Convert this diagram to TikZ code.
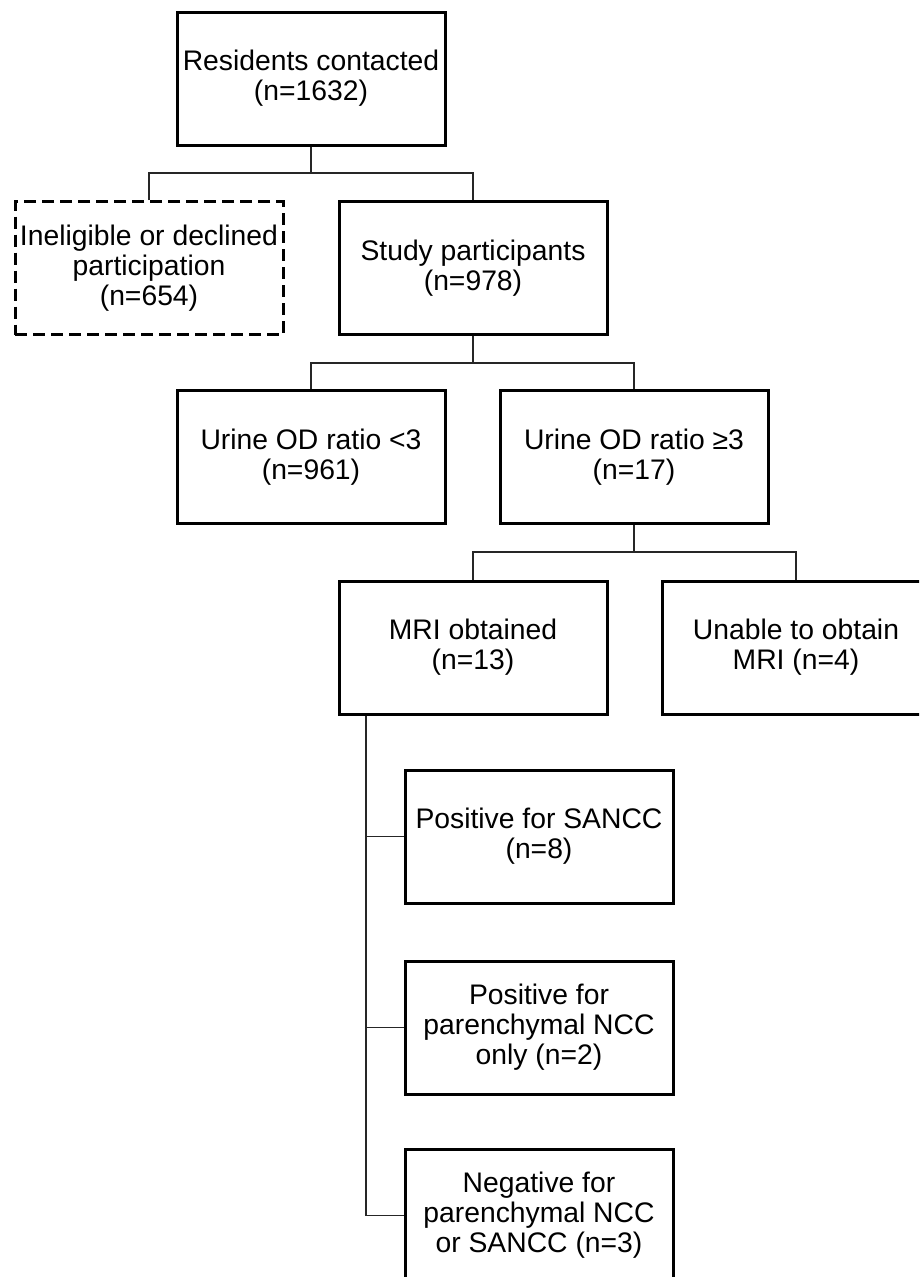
\documentclass[tikz,border=0pt]{standalone}
\usepackage{fontspec}
\setmainfont{Liberation Sans}
\begin{document}
\begin{tikzpicture}[x=1pt,y=-1pt,
  box/.style={draw=black,line width=3pt,minimum width=268pt,minimum height=133pt,
    inner sep=0pt,align=center,font=\fontsize{28.3}{30}\selectfont},
  dbox/.style={box,dash pattern=on 12pt off 6pt},
  conn/.style={draw=black!85,line width=1.4pt}]
\clip (0,0) rectangle (919,1277);
\fill[white] (0,0) rectangle (919,1277);
\node[box] (res) at (311,78.5) {Residents contacted\\(n=1632)};
\node[dbox] (inel) at (149,268) {Ineligible or declined\\participation\\(n=654)};
\node[box] (study) at (473,268) {Study participants\\(n=978)};
\node[box] (low) at (311,457) {Urine OD ratio <3\\(n=961)};
\node[box] (high) at (634,457) {Urine OD ratio ≥3\\(n=17)};
\node[box] (mri) at (473,647.5) {MRI obtained\\(n=13)};
\node[box] (unable) at (796,647.5) {Unable to obtain\\MRI (n=4)};
\node[box] (pos1) at (539,836.5) {Positive for SANCC\\(n=8)};
\node[box] (pos2) at (539,1027.5) {Positive for\\parenchymal NCC\\only (n=2)};
\node[box] (neg) at (539,1215.5) {Negative for\\parenchymal NCC\\or SANCC (n=3)};
\coordinate (j1) at (311,173);
\coordinate (j2) at (473,363);
\coordinate (j3) at (634,552);
\coordinate (j4) at (366,1215.5);
\draw[conn] (res.south) -- (j1);
\draw[conn] (inel.north) |- (j1) -| (study.north);
\draw[conn] (study.south) -- (j2);
\draw[conn] (low.north) |- (j2) -| (high.north);
\draw[conn] (high.south) -- (j3);
\draw[conn] (mri.north) |- (j3) -| (unable.north);
\draw[conn] (mri.south -| j4) -- (j4) -- (neg.west);
\draw[conn] (pos1.west -| j4) -- (pos1.west);
\draw[conn] (pos2.west -| j4) -- (pos2.west);
\end{tikzpicture}
\end{document}
